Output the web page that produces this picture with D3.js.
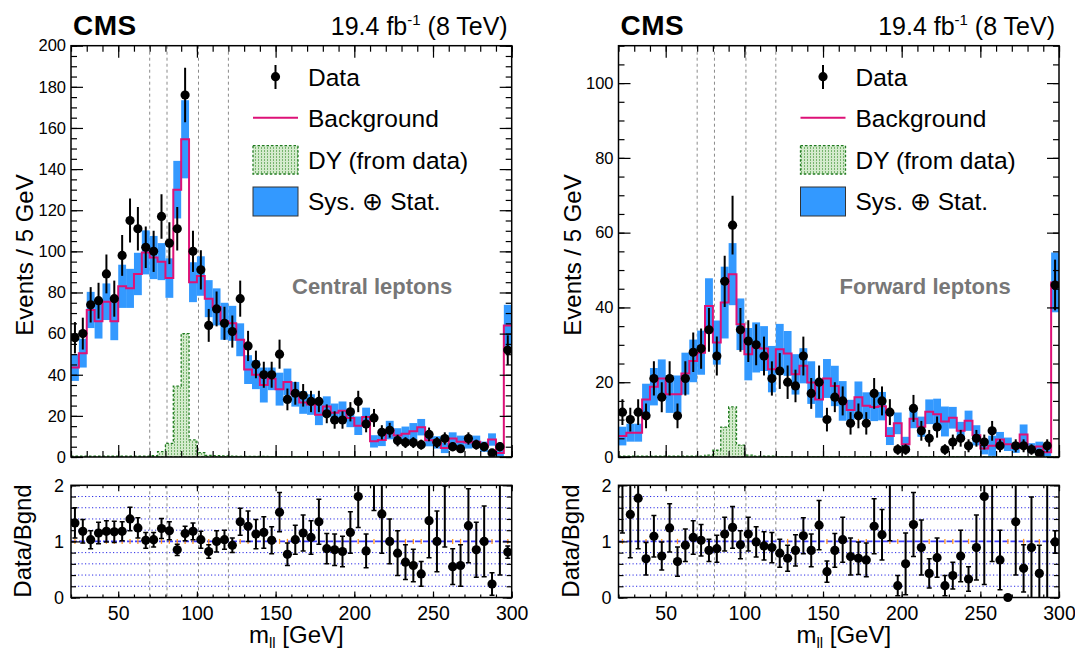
<!DOCTYPE html>
<html>
<head>
<meta charset="utf-8">
<script src="https://cdn.jsdelivr.net/npm/d3@7"></script>
<style>
    body { margin: 0; background: #fff; }
    svg { font-family: "Liberation Sans", Arial, Helvetica, sans-serif; }
</style>
</head>
<body>
<svg id="chart" width="1075" height="651"></svg>
<script>
// lower edge of each 5 GeV bin
const binLow = [20, 25, 30, 35, 40, 45, 50, 55, 60, 65, 70, 75, 80, 85, 90, 95, 100, 105, 110, 115,
    120, 125, 130, 135, 140, 145, 150, 155, 160, 165, 170, 175, 180, 185, 190, 195, 200, 205, 210, 215,
    220, 225, 230, 235, 240, 245, 250, 255, 260, 265, 270, 275, 280, 285, 290, 295];

// central leptons
const centralData = [58, 60, 74, 76, 89, 77, 98, 115, 111, 102, 100, 117, 104, 111, 176, 100, 91, 64, 72, 65,
    61, 77, 54, 45, 40, 40, 50, 28, 31, 30, 27, 27, 21, 18, 18, 22, 27, 16, 19, 12,
    13, 8, 7, 7, 6, 11, 7, 9, 5, 4, 9, 6, 5, 2, 5, 52];
const centralBkg = [43.5, 50.5, 71.5, 66, 75.5, 66, 83, 82, 89, 99.5, 97, 95, 87, 130, 154.5, 85, 88, 77, 73, 66,
    65, 57, 42.5, 40, 35, 38, 33, 36.5, 30.5, 26.5, 25.5, 20.5, 24.5, 21.5, 22.5, 19, 15.2, 19.5, 7.6, 8.3,
    13.1, 10.5, 11.3, 12.5, 14.5, 8.2, 7.1, 4.4, 9, 7.4, 7.1, 7.4, 5, 8.5, 2, 64];
const centralBand = [6.5, 7, 8.8, 8.4, 8.9, 9.2, 10.5, 9.5, 10.3, 10.7, 10.5, 9, 9.6, 14, 19, 9.7, 9.6, 9, 9, 9,
    8.5, 8, 7, 7, 8.5, 5.5, 8, 6.5, 6, 5.5, 5, 5, 5, 4.5, 4.5, 4.5, 4.5, 4.5, 3, 3,
    4.5, 3.5, 3.5, 4, 4, 3, 3, 2.5, 3, 3, 3, 3, 2.5, 3, 2, 10];
const centralDY = [0.4, 0.4, 0.4, 0.4, 0.4, 0.4, 0.4, 0.4, 0.4, 0.4, 0.6, 2.6, 6.6, 34.5, 60, 8.3, 2.1, 0.8, 0.6, 0.5,
    0.4, 0.3, 0.3, 0.3, 0.3, 0.2, 0.2, 0.2, 0.2, 0.2, 0.1, 0.1, 0.1, 0.1, 0.1, 0.1, 0.1, 0.1, 0.1, 0.1,
    0.1, 0.1, 0.1, 0.1, 0.1, 0.1, 0.1, 0.1, 0.1, 0.1, 0.1, 0.1, 0.1, 0.1, 0.1, 0.1];
const centralRatio = [1.33, 1.18, 1.03, 1.15, 1.18, 1.17, 1.18, 1.40, 1.24, 1.02, 1.03, 1.23, 1.19, 0.85, 1.14, 1.18, 1.03, 0.82, 1.0, 1.03,
    0.93, 1.35, 1.27, 1.13, 1.16, 1.02, 1.52, 0.77, 1.03, 1.15, 1.07, 1.35, 0.87, 0.85, 0.82, 1.16, 1.80, 0.83, 2.55, 1.49,
    1.0, 0.79, 0.63, 0.57, 0.42, 1.37, 1.0, 2.05, 0.55, 0.57, 1.28, 0.85, 1.0, 0.24, 2.6, 0.81];
const centralRatioErr = [0.27, 0.21, 0.16, 0.19, 0.19, 0.19, 0.17, 0.21, 0.18, 0.14, 0.13, 0.18, 0.16, 0.10, 0.13, 0.15, 0.15, 0.12, 0.19, 0.17,
    0.13, 0.24, 0.27, 0.26, 0.28, 0.24, 0.35, 0.2, 0.26, 0.32, 0.30, 0.40, 0.27, 0.28, 0.27, 0.37, 0.55, 0.30, 1.0, 0.7,
    0.4, 0.4, 0.31, 0.29, 0.22, 0.66, 0.54, 1.15, 0.32, 0.37, 0.66, 0.49, 0.63, 0.2, 2.2, 0.11];

// forward leptons
const forwardData = [12, 10, 12, 11, 21, 16, 21, 11, 21, 28, 29, 34, 27, 47, 62, 34, 31, 30, 27, 21,
    23, 20, 19, 27, 17, 20, 10, 16, 15, 9, 11, 9, 17, 15, 12, 2, 2, 13, 7, 5,
    8, 2, 4, 5, 3, 5, 4, 7, 3, 0, 3, 3, 2, 1, 3, 46];
const forwardBkg = [5.6, 6.5, 6.5, 15.4, 18.8, 21, 16.8, 16.8, 22.3, 25.7, 27.9, 40.4, 30.6, 41.3, 48.9, 35.5, 27.5, 29.3, 29, 23.5,
    28.8, 27.7, 22.1, 24.4, 19.9, 15.4, 21, 19, 15, 12.6, 16, 13.7, 13.4, 13.6, 5.6, 9, 3.4, 10.2, 8.1, 12.1,
    11.4, 9.5, 10.5, 7, 9.7, 5.8, 2.3, 3, 4.7, 3.4, 2.4, 6, 2.4, 2.8, 1.3, 46.7];
const forwardBand = [2.5, 2.4, 2.4, 4.2, 5, 5.1, 5, 5, 5.6, 5.7, 5.9, 7.4, 5.9, 9.6, 8.3, 6.9, 7, 6.7, 6, 6.2,
    6.8, 6, 5.4, 4.7, 5.7, 4.9, 5.2, 5.4, 5.3, 2.7, 4.2, 3.6, 3.8, 3.8, 2.4, 2.9, 2, 2.5, 2.7, 3.3,
    4.2, 4, 2.9, 2.4, 2.7, 2.7, 1.6, 2.7, 2, 1.8, 1.3, 2.7, 1.3, 1.3, 1.1, 8];
const forwardDY = [0.2, 0.2, 0.2, 0.2, 0.2, 0.2, 0.2, 0.2, 0.2, 0.2, 0.2, 0.5, 1.8, 8, 13.4, 3.2, 0.5, 0.2, 0.2, 0.2,
    0.1, 0.1, 0.1, 0.1, 0.1, 0.1, 0.1, 0.1, 0.1, 0.1, 0.1, 0.1, 0.1, 0.1, 0.1, 0.1, 0.1, 0.1, 0.1, 0.1,
    0.1, 0.1, 0.1, 0.1, 0.1, 0.1, 0.1, 0.1, 0.1, 0.1, 0.1, 0.1, 0.1, 0.1, 0.1, 0.1];
const forwardRatio = [2.15, 1.48, 1.77, 0.69, 1.09, 0.74, 1.24, 0.64, 0.93, 1.07, 1.02, 0.84, 0.87, 1.13, 1.25, 0.94, 1.13, 0.99, 0.92, 0.89,
    0.79, 0.70, 0.84, 1.10, 0.84, 1.29, 0.46, 0.84, 1.03, 0.73, 0.70, 0.67, 1.27, 1.12, 2.16, 0.21, 0.6, 1.30, 0.89, 0.43,
    0.71, 0.21, 0.39, 0.74, 0.33, 0.89, 1.80, 2.4, 0.67, 0, 1.35, 0.52, 0.89, 0.43, 2.5, 0.99];
const forwardRatioErr = [1.0, 0.77, 0.9, 0.29, 0.37, 0.25, 0.43, 0.26, 0.29, 0.3, 0.28, 0.2, 0.24, 0.3, 0.37, 0.25, 0.3, 0.27, 0.25, 0.27,
    0.25, 0.23, 0.28, 0.32, 0.29, 0.44, 0.19, 0.3, 0.4, 0.33, 0.29, 0.3, 0.49, 0.45, 1.15, 0.18, 0.55, 0.57, 0.49, 0.26,
    0.35, 0.18, 0.24, 0.46, 0.22, 0.58, 1.57, 1.76, 0.53, 0, 0.95, 0.42, 0.9, 0.5, 2.5, 0.2];

// window lines and tick labels
const windowLines = [70, 81, 101, 120];
const xTickLabels = [50, 100, 150, 200, 250, 300];
const centralYTicks = [0, 20, 40, 60, 80, 100, 120, 140, 160, 180, 200];
const forwardYTicks = [0, 20, 40, 60, 80, 100];
const ratioTicks = [0, 1, 2];
const ratioGrid = [0.2, 0.4, 0.6, 0.8, 1.2, 1.4, 1.6, 1.8];

const blue = "#3399ff", pink = "#dd1177", dyGreen = "#1f7a1f";
const mainTop = 45.7, mainBottom = 457, ratioTop = 485.3, ratioBottom = 597.5;

const svg = d3.select("#chart");
const defs = svg.append("defs");

var pat = defs.append("pattern").attr("id", "dyFill")
    .attr("patternUnits", "userSpaceOnUse").attr("width", 3).attr("height", 3);
pat.append("rect").attr("width", 3).attr("height", 3).attr("fill", "#d4ebcd");
pat.append("rect").attr("width", 1).attr("height", 2).attr("fill", "#78b56f");

function addTicks(g, axis) {
    g.call(axis);
    g.select(".domain").remove();
    g.selectAll(".tick line").attr("stroke", "#000").attr("stroke-width", 1.2);
}

function drawPanel(id, x0, x1, yMax, yTicks, data, bkg, band, dy, ratio, ratioErr, label) {
    var x = d3.scaleLinear().domain([20, 300]).range([x0, x1]);
    var y = d3.scaleLinear().domain([0, yMax]).range([mainBottom, mainTop]);
    var yr = d3.scaleLinear().domain([0, 2]).range([ratioBottom, ratioTop]);
    var bw = x(25) - x(20);

    defs.append("clipPath").attr("id", "clipMain" + id).append("rect")
        .attr("x", x0).attr("y", mainTop).attr("width", x1 - x0).attr("height", mainBottom - mainTop);
    defs.append("clipPath").attr("id", "clipRatio" + id).append("rect")
        .attr("x", x0).attr("y", ratioTop).attr("width", x1 - x0).attr("height", ratioBottom - ratioTop + 6);

    // ---------- main pad ----------
    var main = svg.append("g").attr("clip-path", "url(#clipMain" + id + ")");

    main.selectAll(".win").data(windowLines).enter().append("line")
        .attr("x1", d => x(d)).attr("x2", d => x(d))
        .attr("y1", mainTop).attr("y2", mainBottom)
        .attr("stroke", "#8a8a8a").attr("stroke-width", 1).attr("stroke-dasharray", "3,3");

    main.selectAll(".band").data(binLow).enter().append("rect")
        .attr("x", d => x(d)).attr("width", bw)
        .attr("y", (d, i) => y(bkg[i] + band[i]))
        .attr("height", (d, i) => y(bkg[i] - band[i]) - y(bkg[i] + band[i]))
        .attr("fill", blue);

    var dyPts = binLow.map((d, i) => [d, dy[i]]);
    dyPts.push([300, dy[dy.length - 1]]);
    main.append("path").datum(dyPts)
        .attr("d", d3.area().curve(d3.curveStepAfter)
            .x(d => x(d[0])).y0(y(0)).y1(d => y(d[1])))
        .attr("fill", "url(#dyFill)")
        .attr("stroke", dyGreen).attr("stroke-width", 1.3).attr("stroke-dasharray", "2.5,2");

    var bkgPts = binLow.map((d, i) => [d, bkg[i]]);
    bkgPts.push([300, bkg[bkg.length - 1]]);
    main.append("path").datum(bkgPts)
        .attr("d", d3.line().curve(d3.curveStepAfter).x(d => x(d[0])).y(d => y(d[1])))
        .attr("fill", "none").attr("stroke", pink).attr("stroke-width", 2);

    var pts = binLow.map((d, i) => ({ m: d + 2.5, n: data[i] })).filter(d => d.n > 0);
    main.selectAll(".err").data(pts).enter().append("line")
        .attr("x1", d => x(d.m)).attr("x2", d => x(d.m))
        .attr("y1", d => y(d.n + Math.sqrt(d.n))).attr("y2", d => y(d.n - Math.sqrt(d.n)))
        .attr("stroke", "#000").attr("stroke-width", 2);
    main.selectAll(".pt").data(pts).enter().append("circle")
        .attr("cx", d => x(d.m)).attr("cy", d => y(d.n)).attr("r", 4.6).attr("fill", "#000");

    // frame and ticks
    var minorX = d3.range(20, 301, 10);
    var gb = svg.append("g").attr("transform", "translate(0," + mainBottom + ")");
    addTicks(gb, d3.axisBottom(x).tickValues(minorX).tickSize(-6).tickFormat(""));
    addTicks(svg.append("g").attr("transform", "translate(0," + mainBottom + ")"),
        d3.axisBottom(x).tickValues(xTickLabels).tickSize(-12).tickFormat(""));
    addTicks(svg.append("g").attr("transform", "translate(0," + mainTop + ")"),
        d3.axisTop(x).tickValues(minorX).tickSize(-6).tickFormat(""));
    addTicks(svg.append("g").attr("transform", "translate(0," + mainTop + ")"),
        d3.axisTop(x).tickValues(xTickLabels).tickSize(-12).tickFormat(""));

    var minorY = d3.range(0, yMax + 0.1, 5);
    addTicks(svg.append("g").attr("transform", "translate(" + x0 + ",0)"),
        d3.axisLeft(y).tickValues(minorY).tickSize(-6).tickFormat(""));
    var gl = svg.append("g").attr("transform", "translate(" + x0 + ",0)");
    addTicks(gl, d3.axisLeft(y).tickValues(yTicks).tickSize(-12).tickPadding(5));
    gl.selectAll("text").attr("font-size", 16.5).attr("fill", "#000").attr("font-family", null);
    addTicks(svg.append("g").attr("transform", "translate(" + x1 + ",0)"),
        d3.axisRight(y).tickValues(minorY).tickSize(-6).tickFormat(""));
    addTicks(svg.append("g").attr("transform", "translate(" + x1 + ",0)"),
        d3.axisRight(y).tickValues(yTicks).tickSize(-12).tickFormat(""));

    svg.append("rect").attr("x", x0).attr("y", mainTop)
        .attr("width", x1 - x0).attr("height", mainBottom - mainTop)
        .attr("fill", "none").attr("stroke", "#000").attr("stroke-width", 1.5);

    // titles
    svg.append("text").attr("x", x0 + 2).attr("y", 35)
        .attr("font-size", 28).attr("font-weight", "bold").attr("letter-spacing", 0.5).text("CMS");
    var lumi = svg.append("text").attr("x", x1 - 4).attr("y", 35)
        .attr("text-anchor", "end").attr("font-size", 25);
    lumi.append("tspan").text("19.4 fb");
    lumi.append("tspan").attr("font-size", 15).attr("dy", -10).text("-1");
    lumi.append("tspan").attr("dy", 10).text(" (8 TeV)");

    svg.append("text").attr("x", x0 + 221).attr("y", 294)
        .attr("font-size", 22).attr("font-weight", "bold").attr("fill", "#777").text(label);

    svg.append("text")
        .attr("transform", "translate(" + (x0 - 38) + "," + 255 + ") rotate(-90)")
        .attr("text-anchor", "middle").attr("font-size", 24).text("Events / 5 GeV");

    // legend
    var lx = x0 + 182, tx = x0 + 237;
    svg.append("line").attr("x1", lx + 22.5).attr("x2", lx + 22.5).attr("y1", 65).attr("y2", 89)
        .attr("stroke", "#000").attr("stroke-width", 2);
    svg.append("circle").attr("cx", lx + 22.5).attr("cy", 76.7).attr("r", 4.6).attr("fill", "#000");
    svg.append("text").attr("x", tx).attr("y", 86).attr("font-size", 24.5).text("Data");

    svg.append("line").attr("x1", lx).attr("x2", lx + 45).attr("y1", 117.7).attr("y2", 117.7)
        .attr("stroke", pink).attr("stroke-width", 2);
    svg.append("text").attr("x", tx).attr("y", 127).attr("font-size", 24.5).text("Background");

    svg.append("rect").attr("x", lx).attr("y", 145.7).attr("width", 45).attr("height", 28.3)
        .attr("fill", "url(#dyFill)").attr("stroke", dyGreen).attr("stroke-width", 1.3)
        .attr("stroke-dasharray", "2.5,2");
    svg.append("text").attr("x", tx).attr("y", 169).attr("font-size", 24.5).text("DY (from data)");

    svg.append("rect").attr("x", lx).attr("y", 187).attr("width", 45).attr("height", 29)
        .attr("fill", blue).attr("stroke", "#333").attr("stroke-width", 1);
    svg.append("text").attr("x", tx).attr("y", 210).attr("font-size", 24.5).text("Sys. \u2295 Stat.");

    // ---------- ratio pad ----------
    var rg = svg.append("g");
    rg.selectAll(".grid").data(ratioGrid).enter().append("line")
        .attr("x1", x0).attr("x2", x1)
        .attr("y1", d => yr(d)).attr("y2", d => yr(d))
        .attr("stroke", "#2a2ae6").attr("stroke-width", 1).attr("stroke-dasharray", "1.2,2.3");
    rg.selectAll(".win").data(windowLines).enter().append("line")
        .attr("x1", d => x(d)).attr("x2", d => x(d))
        .attr("y1", ratioTop).attr("y2", ratioBottom)
        .attr("stroke", "#8a8a8a").attr("stroke-width", 1).attr("stroke-dasharray", "3,3");
    rg.append("line").attr("x1", x0).attr("x2", x1).attr("y1", yr(1)).attr("y2", yr(1))
        .attr("stroke", "#4040ff").attr("stroke-width", 1.6).attr("stroke-dasharray", "6,2");
    rg.selectAll(".bk").data(binLow).enter().append("line")
        .attr("x1", d => x(d + 2.5)).attr("x2", d => x(d + 2.5))
        .attr("y1", yr(0.955)).attr("y2", yr(1.045))
        .attr("stroke", "#ff9922").attr("stroke-width", 1.3);

    var rp = svg.append("g").attr("clip-path", "url(#clipRatio" + id + ")");
    var rpts = binLow.map((d, i) => ({ m: d + 2.5, r: ratio[i], e: ratioErr[i] }));
    var ePts = rpts.filter(d => d.e > 0);
    rp.selectAll(".rerr").data(ePts).enter().append("line")
        .attr("x1", d => x(d.m)).attr("x2", d => x(d.m))
        .attr("y1", d => yr(d.r + d.e)).attr("y2", d => yr(Math.max(0, d.r - d.e)))
        .attr("stroke", "#000").attr("stroke-width", 2);
    rp.selectAll(".capT").data(ePts).enter().append("line")
        .attr("x1", d => x(d.m) - 2.5).attr("x2", d => x(d.m) + 2.5)
        .attr("y1", d => yr(d.r + d.e)).attr("y2", d => yr(d.r + d.e))
        .attr("stroke", "#000").attr("stroke-width", 1.5);
    rp.selectAll(".capB").data(ePts.filter(d => d.r - d.e > 0)).enter().append("line")
        .attr("x1", d => x(d.m) - 2.5).attr("x2", d => x(d.m) + 2.5)
        .attr("y1", d => yr(d.r - d.e)).attr("y2", d => yr(d.r - d.e))
        .attr("stroke", "#000").attr("stroke-width", 1.5);
    rp.selectAll(".rpt").data(rpts).enter().append("circle")
        .attr("cx", d => x(d.m)).attr("cy", d => yr(d.r)).attr("r", 4.6).attr("fill", "#000");

    addTicks(svg.append("g").attr("transform", "translate(0," + ratioBottom + ")"),
        d3.axisBottom(x).tickValues(minorX).tickSize(-3).tickFormat(""));
    var gx = svg.append("g").attr("transform", "translate(0," + ratioBottom + ")");
    addTicks(gx, d3.axisBottom(x).tickValues(xTickLabels).tickSize(-6).tickPadding(9));
    gx.selectAll("text").attr("font-size", 19.5).attr("fill", "#000").attr("font-family", null);
    addTicks(svg.append("g").attr("transform", "translate(0," + ratioTop + ")"),
        d3.axisTop(x).tickValues(minorX).tickSize(-3).tickFormat(""));
    addTicks(svg.append("g").attr("transform", "translate(0," + ratioTop + ")"),
        d3.axisTop(x).tickValues(xTickLabels).tickSize(-6).tickFormat(""));

    var rMinor = d3.range(0, 2.01, 0.2);
    addTicks(svg.append("g").attr("transform", "translate(" + x0 + ",0)"),
        d3.axisLeft(yr).tickValues(rMinor).tickSize(-5).tickFormat(""));
    var gy = svg.append("g").attr("transform", "translate(" + x0 + ",0)");
    addTicks(gy, d3.axisLeft(yr).tickValues(ratioTicks).tickSize(-9).tickPadding(7).tickFormat(d3.format("d")));
    gy.selectAll("text").attr("font-size", 18).attr("fill", "#000").attr("font-family", null);
    addTicks(svg.append("g").attr("transform", "translate(" + x1 + ",0)"),
        d3.axisRight(yr).tickValues(rMinor).tickSize(-5).tickFormat(""));
    addTicks(svg.append("g").attr("transform", "translate(" + x1 + ",0)"),
        d3.axisRight(yr).tickValues(ratioTicks).tickSize(-9).tickFormat(""));

    svg.append("rect").attr("x", x0).attr("y", ratioTop)
        .attr("width", x1 - x0).attr("height", ratioBottom - ratioTop)
        .attr("fill", "none").attr("stroke", "#000").attr("stroke-width", 1.5);

    svg.append("text")
        .attr("transform", "translate(" + (x0 - 40) + "," + 541 + ") rotate(-90)")
        .attr("text-anchor", "middle").attr("font-size", 24).text("Data/Bgnd");

    var xt = svg.append("text").attr("x", (x0 + x1) / 2 + 5).attr("y", 643)
        .attr("text-anchor", "middle").attr("font-size", 24);
    xt.append("tspan").text("m");
    xt.append("tspan").attr("font-size", 15).attr("dy", 5).text("ll");
    xt.append("tspan").attr("dy", -5).text(" [GeV]");
}

drawPanel("C", 71, 511.7, 200, centralYTicks, centralData, centralBkg, centralBand, centralDY,
    centralRatio, centralRatioErr, "Central leptons");
drawPanel("F", 618.5, 1059, 110, forwardYTicks, forwardData, forwardBkg, forwardBand, forwardDY,
    forwardRatio, forwardRatioErr, "Forward leptons");
</script>
</body>
</html>
